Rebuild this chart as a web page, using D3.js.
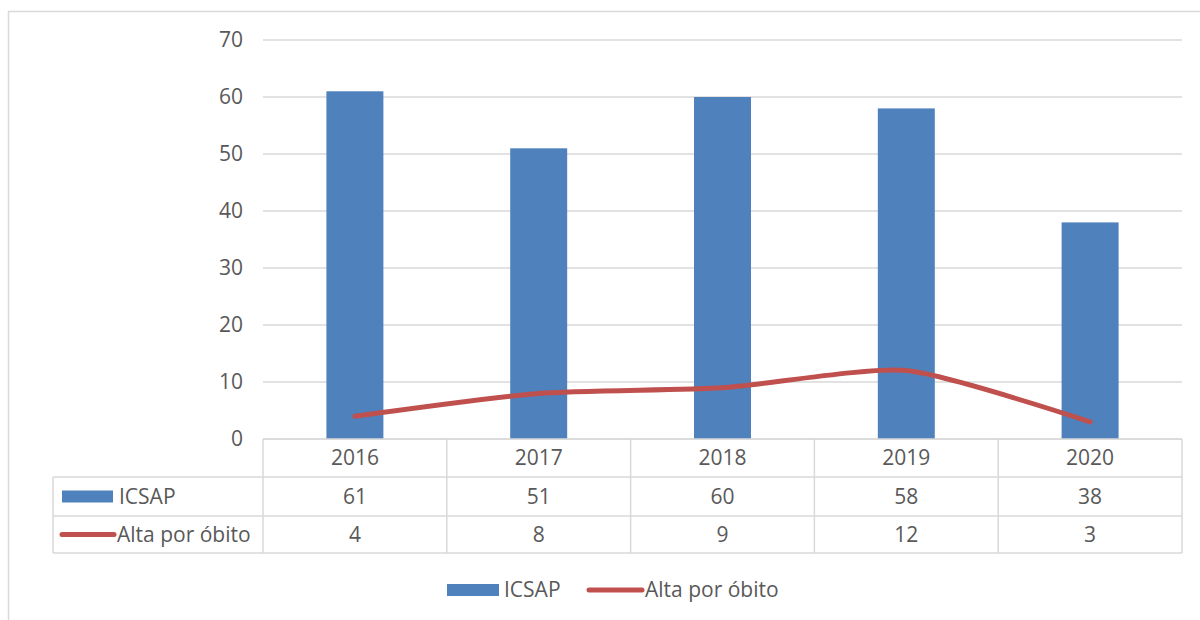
<!DOCTYPE html>
<html>
<head>
<meta charset="utf-8">
<script src="https://cdn.jsdelivr.net/npm/d3@7"></script>
<style>
  html, body { margin: 0; padding: 0; background: #fff; }
  svg { display: block; font-family: "Open Sans", Lato, sans-serif; }
</style>
</head>
<body>
<svg id="chart" width="1200" height="620"></svg>
<script>
// Categories and series
const years = ["2016", "2017", "2018", "2019", "2020"];
const icsap = [61, 51, 60, 58, 38];
const altaObito = [4, 8, 9, 12, 3];
const yTicks = [0, 10, 20, 30, 40, 50, 60, 70];
const seriesNames = ["ICSAP", "Alta por óbito"];

const barColor = "#4F81BD";
const lineColor = "#C0504D";
const gridColor = "#d9d9d9";
const textColor = "#595959";
const fontSize = 21;

const svg = d3.select("#chart");

// Outer frame
svg.append("rect")
  .attr("x", 8.5).attr("y", 11.5)
  .attr("width", 1220).attr("height", 640)
  .attr("fill", "none").attr("stroke", gridColor).attr("stroke-width", 1.5);

const plot = { left: 263, right: 1182, top: 40, bottom: 439 };

const x = d3.scaleBand().domain(years).range([plot.left, plot.right]).padding(0);
const y = d3.scaleLinear().domain([0, 70]).range([plot.bottom, plot.top]);

// Gridlines
svg.append("g").selectAll("line").data(yTicks).join("line")
  .attr("x1", plot.left).attr("x2", plot.right)
  .attr("y1", d => y(d)).attr("y2", d => y(d))
  .attr("stroke", gridColor).attr("stroke-width", 1.5);

// Y axis labels
const yAxis = d3.axisLeft(y).tickValues(yTicks).tickSize(0).tickPadding(0);
const yg = svg.append("g").attr("transform", `translate(${plot.left - 20},0)`).call(yAxis);
yg.select(".domain").remove();
yg.selectAll("text").attr("fill", textColor).attr("font-size", fontSize).attr("dy", "0.32em")
  .style("font-family", "'Open Sans', Lato, sans-serif");

// Bars
const barW = x.bandwidth() * 0.31;
svg.append("g").selectAll("rect").data(icsap).join("rect")
  .attr("x", (d, i) => x(years[i]) + (x.bandwidth() - barW) / 2)
  .attr("width", barW)
  .attr("y", d => y(d))
  .attr("height", d => y(0) - y(d))
  .attr("fill", barColor);

// Smoothed line
const line = d3.line()
  .x((d, i) => x(years[i]) + x.bandwidth() / 2)
  .y(d => y(d))
  .curve(d3.curveCardinal.tension(0.35));
svg.append("path").datum(altaObito)
  .attr("d", line)
  .attr("fill", "none").attr("stroke", lineColor)
  .attr("stroke-width", 5).attr("stroke-linecap", "round");

// Data table
const tableLeft = 53;
const rowTops = [439, 477, 516, 553];
const tg = svg.append("g");
function hline(x1, x2, yy) {
  tg.append("line").attr("x1", x1).attr("x2", x2).attr("y1", yy).attr("y2", yy)
    .attr("stroke", gridColor).attr("stroke-width", 1.5);
}
function vline(xx, y1, y2) {
  tg.append("line").attr("x1", xx).attr("x2", xx).attr("y1", y1).attr("y2", y2)
    .attr("stroke", gridColor).attr("stroke-width", 1.5);
}
hline(plot.left, plot.right, rowTops[0]);
hline(tableLeft, plot.right, rowTops[1]);
hline(tableLeft, plot.right, rowTops[2]);
hline(tableLeft, plot.right, rowTops[3]);
vline(tableLeft, rowTops[1], rowTops[3]);
years.forEach(yr => vline(x(yr), rowTops[0], rowTops[3]));
vline(plot.right, rowTops[0], rowTops[3]);

const rows = [years, icsap, altaObito];
rows.forEach((vals, r) => {
  tg.append("g").selectAll("text").data(vals).join("text")
    .attr("x", (d, i) => x(years[i]) + x.bandwidth() / 2)
    .attr("y", (rowTops[r] + rowTops[r + 1]) / 2)
    .attr("dy", "0.35em")
    .attr("text-anchor", "middle")
    .attr("fill", textColor).attr("font-size", fontSize)
    .text(d => d);
});

// Row headers with series keys
const rowMid1 = (rowTops[1] + rowTops[2]) / 2;
const rowMid2 = (rowTops[2] + rowTops[3]) / 2;
tg.append("rect").attr("x", 62).attr("y", rowMid1 - 6).attr("width", 51).attr("height", 12).attr("fill", barColor);
tg.append("text").attr("x", 119).attr("y", rowMid1).attr("dy", "0.35em")
  .attr("fill", textColor).attr("font-size", fontSize).text(seriesNames[0]);
tg.append("line").attr("x1", 62).attr("x2", 114).attr("y1", rowMid2).attr("y2", rowMid2)
  .attr("stroke", lineColor).attr("stroke-width", 5).attr("stroke-linecap", "round");
tg.append("text").attr("x", 117).attr("y", rowMid2).attr("dy", "0.35em")
  .attr("fill", textColor).attr("font-size", fontSize).text(seriesNames[1]);

// Bottom legend
const lg = svg.append("g");
const legY = 590;
lg.append("rect").attr("x", 447).attr("y", legY - 6).attr("width", 52).attr("height", 12).attr("fill", barColor);
lg.append("text").attr("x", 504).attr("y", legY).attr("dy", "0.35em")
  .attr("fill", textColor).attr("font-size", fontSize).text(seriesNames[0]);
lg.append("line").attr("x1", 589).attr("x2", 642).attr("y1", legY).attr("y2", legY)
  .attr("stroke", lineColor).attr("stroke-width", 5).attr("stroke-linecap", "round");
lg.append("text").attr("x", 645).attr("y", legY).attr("dy", "0.35em")
  .attr("fill", textColor).attr("font-size", fontSize).text(seriesNames[1]);
</script>
</body>
</html>
